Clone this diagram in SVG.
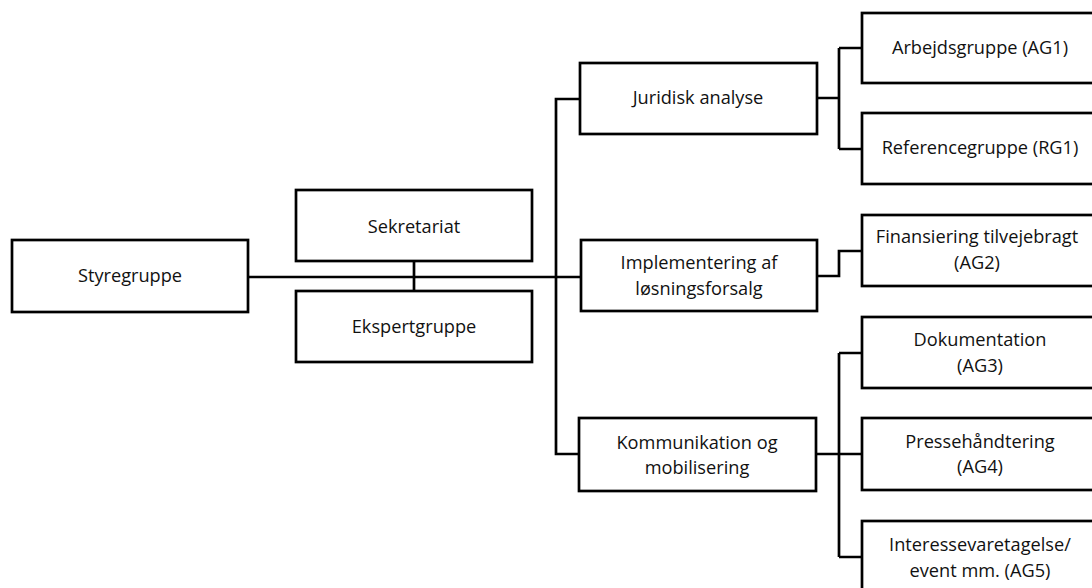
<svg xmlns="http://www.w3.org/2000/svg" width="1092" height="588" viewBox="0 0 1092 588">
<style>
.box{fill:#fff;stroke:#000;stroke-width:2.7}
.ln{fill:none;stroke:#000;stroke-width:2.7}
text{font-family:"Open Sans","Liberation Sans",sans-serif;font-size:18.2px;fill:#111;text-anchor:middle}
</style>
<rect width="1092" height="588" fill="#fff"/>
<g id="connectors">
<path class="ln" d="M248 277H581"/>
<path class="ln" d="M414 261V291"/>
<path class="ln" d="M580 99H556V454H579"/>
<path class="ln" d="M817 98H839M839 48V149M839 48H862M839 149H862"/>
<path class="ln" d="M817 276H839V251H862"/>
<path class="ln" d="M816 454H862M839 353V557M839 353H862M839 557H862"/>
</g>
<g id="styregruppe"><rect class="box" x="12" y="240" width="236" height="72"/><text x="130" y="282">Styregruppe</text></g>
<g id="sekretariat"><rect class="box" x="296" y="190" width="236" height="71"/><text x="414" y="233">Sekretariat</text></g>
<g id="ekspertgruppe"><rect class="box" x="296" y="291" width="236" height="71"/><text x="414" y="333">Ekspertgruppe</text></g>
<g id="juridisk"><rect class="box" x="580" y="63" width="237" height="71"/><text x="698" y="104">Juridisk analyse</text></g>
<g id="implementering"><rect class="box" x="581" y="240" width="236" height="71"/><text x="699" y="269">Implementering af</text><text x="699" y="295">løsningsforsalg</text></g>
<g id="kommunikation"><rect class="box" x="579" y="418" width="237" height="73"/><text x="697" y="449">Kommunikation og</text><text x="697" y="474">mobilisering</text></g>
<g id="ag1"><rect class="box" x="862" y="13" width="236" height="70"/><text x="980" y="54">Arbejdsgruppe (AG1)</text></g>
<g id="rg1"><rect class="box" x="862" y="113" width="236" height="71"/><text x="980" y="154">Referencegruppe (RG1)</text></g>
<g id="ag2"><rect class="box" x="862" y="215" width="236" height="71"/><text x="977" y="243">Finansiering tilvejebragt</text><text x="977" y="269">(AG2)</text></g>
<g id="ag3"><rect class="box" x="862" y="317" width="236" height="71"/><text x="980" y="346">Dokumentation</text><text x="980" y="372">(AG3)</text></g>
<g id="ag4"><rect class="box" x="862" y="418" width="236" height="72"/><text x="980" y="448">Pressehåndtering</text><text x="980" y="473">(AG4)</text></g>
<g id="ag5"><rect class="box" x="862" y="521" width="236" height="72"/><text x="980" y="551">Interessevaretagelse/</text><text x="980" y="577">event mm. (AG5)</text></g>
</svg>
